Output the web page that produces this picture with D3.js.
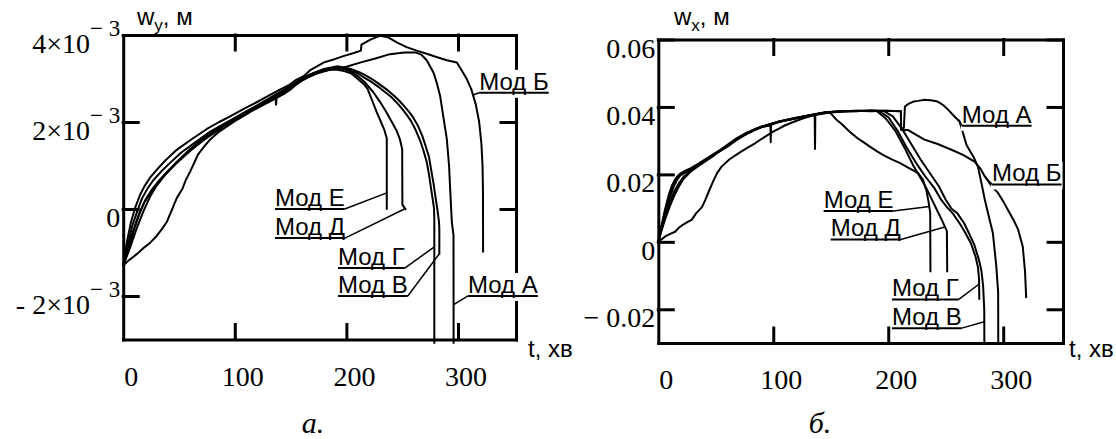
<!DOCTYPE html>
<html>
<head>
<meta charset="utf-8">
<script src="https://cdn.jsdelivr.net/npm/d3@7"></script>
<style>
  body { margin: 0; background: #fff; }
  svg { display: block; background: #fff; }
  .serif { font-family: "Liberation Serif", "Times New Roman", serif; }
  .sans { font-family: "Liberation Sans", Arial, sans-serif; }
</style>
</head>
<body>
<div id="wrapper"></div>
<script>
// t in хв; w_y in units of 1e-3 м (panel а)
const wyA = [[0,-1.3],[4,-1.2],[8,-1.12],[13,-1.02],[18,-0.9],[24,-0.78],[30,-0.62],[35,-0.45],[39,-0.3],[42,-0.12],[44,0],[46,0.13],[48,0.25],[51,0.38],[53,0.46],[56,0.66],[60,0.86],[64,1.08],[67,1.25],[72,1.42],[78,1.6],[85,1.76],[93,1.9],[100,2.02],[108,2.14],[115,2.25],[123,2.36],[130,2.45],[138,2.56],[145,2.66],[150,2.75],[155,2.86],[160,2.95],[166,3.03],[172,3.1],[185,3.2],[200,3.27],[213,3.37],[226,3.46],[239,3.56],[252,3.6],[262,3.6],[267,3.55],[272,3.42],[278,3.14],[281,2.9],[284,2.6],[287,2.1],[290,1.61],[292,1.0],[293,0.46],[294.5,-0.3],[296,-0.6],[296.1,-3.1]]
const wyB = [[0,-1.3],[3,-0.8],[7,-0.3],[11,0.05],[15,0.32],[19,0.52],[24,0.72],[30,0.9],[38,1.12],[48,1.36],[60,1.58],[75,1.84],[86,2.0],[95,2.12],[108,2.3],[120,2.46],[130,2.6],[140,2.74],[148,2.84],[155,2.97],[162,3.06],[168,3.2],[180,3.37],[190,3.45],[198,3.52],[206,3.58],[213,3.64],[213.5,3.78],[222,3.9],[230,3.98],[237,3.95],[246,3.82],[254,3.72],[263,3.64],[272,3.57],[280,3.5],[290,3.42],[299,3.37],[303,3.2],[308,2.98],[312,2.75],[316,2.4],[319,2.0],[321,1.5],[322,1.0],[322.4,0.4],[322.5,-1.0]]
const wyV = [[0,-1.3],[4,-0.85],[8,-0.4],[13,-0.02],[17,0.25],[22,0.48],[27,0.66],[34,0.86],[42,1.06],[52,1.3],[64,1.52],[78,1.78],[88,1.92],[98,2.06],[110,2.24],[122,2.4],[132,2.55],[142,2.7],[150,2.82],[158,2.95],[164,3.04],[170,3.12],[180,3.22],[192,3.28],[204,3.22],[212,3.14],[218,3.06],[224,2.97],[230,2.86],[236,2.75],[242,2.62],[247,2.5],[252,2.36],[256,2.24],[260,2.1],[264,1.92],[268,1.68],[271,1.45],[274,1.2],[276,0.9],[278,0.6],[280,0.25],[281.5,0.0],[283,-0.3],[283.3,-0.45],[283.3,-1.05]]
const wyG = [[0,-1.3],[5,-0.9],[10,-0.45],[15,-0.08],[20,0.22],[25,0.42],[31,0.62],[38,0.82],[47,1.05],[58,1.3],[72,1.58],[90,1.9],[100,2.04],[112,2.22],[124,2.38],[135,2.55],[136.5,2.57],[137,2.4],[137.5,2.59],[145,2.7],[152,2.82],[158,2.92],[165,3.02],[172,3.1],[178,3.18],[190,3.25],[202,3.2],[210,3.12],[216,3.02],[222,2.93],[228,2.82],[234,2.7],[240,2.58],[245,2.45],[250,2.3],[254,2.17],[258,2.02],[262,1.82],[266,1.58],[269,1.35],[272,1.08],[274,0.8],[276,0.45],[277.5,0.2],[278.5,0.02],[278.8,-0.2],[278.8,-3.1]]
const wyD = [[0,-1.3],[4,-0.95],[9,-0.5],[14,-0.12],[19,0.15],[24,0.35],[30,0.56],[38,0.8],[48,1.06],[60,1.34],[75,1.66],[85,1.84],[95,2.0],[108,2.19],[120,2.36],[130,2.51],[140,2.66],[148,2.78],[155,2.9],[162,3.0],[168,3.08],[175,3.16],[182,3.22],[189,3.25],[196,3.24],[203,3.17],[210,3.06],[217,2.9],[224,2.69],[230,2.47],[236,2.22],[241,1.99],[245,1.8],[248,1.6],[250,1.38],[250.2,0.1],[253.4,-0.02]]
const wyE = [[0,-1.3],[6,-0.9],[12,-0.45],[18,-0.06],[24,0.28],[30,0.54],[38,0.8],[48,1.08],[60,1.38],[75,1.7],[85,1.87],[95,2.02],[108,2.21],[120,2.38],[130,2.53],[140,2.68],[148,2.8],[155,2.92],[162,3.02],[168,3.1],[174,3.15],[180,3.18],[186,3.2],[192,3.2],[198,3.17],[204,3.12],[208,3.04],[212,2.95],[216,2.86],[219,2.76],[223,2.5],[227,2.24],[231,2.0],[234,1.82],[236.2,1.62],[236.2,-0.02]]

// w_x in м (panel б)
const wxA = [[0,0],[3,0.0008],[6,0.0016],[10,0.0023],[14.6,0.003],[18,0.0042],[22,0.0052],[26,0.006],[29,0.0065],[33,0.0085],[38,0.0103],[41,0.0125],[44,0.015],[47,0.0174],[51,0.0203],[55,0.0223],[62,0.0245],[70,0.0263],[77,0.0278],[84.5,0.0293],[92,0.031],[99,0.0325],[105,0.0336],[110,0.0345],[118,0.0356],[125,0.0365],[132,0.0372],[140,0.0378],[148,0.0383],[155,0.0385],[165,0.0387],[175,0.0388],[185,0.0388],[195,0.0389],[205,0.0388],[211,0.0387],[211.2,0.0335],[213.6,0.0338],[214.5,0.0401],[218,0.041],[222,0.0416],[226,0.0418],[231,0.0421],[237,0.042],[243,0.0416],[248,0.0405],[252,0.0392],[257,0.0374],[262,0.0357],[265,0.0323],[268,0.0288],[271,0.027],[274,0.0253],[278,0.0223],[281,0.0175],[284,0.0125],[288,0.0068],[291,0.0026],[294,-0.0073],[295.6,-0.015],[295.7,-0.0305]]
const wxB = [[0,0],[3,0.0035],[6,0.0068],[10,0.0105],[14,0.0138],[18,0.0165],[22,0.0187],[28,0.0208],[35,0.0225],[46,0.025],[53,0.0268],[61,0.0284],[68,0.0302],[76,0.0318],[83,0.033],[90,0.034],[97.5,0.0346],[97.8,0.0295],[98.1,0.0347],[105,0.0355],[112,0.0361],[119,0.0366],[126,0.0371],[134,0.0376],[141,0.0381],[148,0.0384],[160,0.0387],[172,0.0389],[185,0.0387],[198,0.0389],[205,0.0388],[211,0.0387],[211.2,0.0332],[217,0.0332],[224,0.0318],[231.5,0.0303],[243,0.029],[255,0.0273],[265,0.0258],[275,0.0238],[280,0.0218],[284,0.0194],[290,0.0165],[295.5,0.0145],[300,0.012],[304,0.0095],[309,0.0065],[313,0.0036],[317,-0.0014],[319,-0.009],[320,-0.0167]]
const wxV = [[0,0],[3,0.0048],[6,0.009],[10,0.014],[13,0.0172],[16,0.0192],[19,0.0202],[23,0.021],[28,0.0218],[35,0.0232],[46,0.0256],[54,0.0273],[61,0.029],[68,0.0307],[76,0.0322],[83,0.0333],[90,0.0342],[105,0.0357],[119,0.0367],[134,0.0377],[148,0.0385],[160,0.0388],[172,0.0387],[185,0.039],[196,0.0388],[204,0.0372],[212,0.0335],[220,0.029],[228,0.0245],[236,0.0205],[244,0.0165],[250,0.0125],[255,0.0098],[260,0.0085],[266,0.0055],[270,0.0027],[275,-0.001],[279,-0.0055],[281,-0.0085],[282.5,-0.013],[283.5,-0.02],[283.6,-0.0305]]
const wxG = [[0,0],[3,0.0052],[6,0.0098],[9,0.0138],[12,0.0168],[15,0.0186],[18,0.0196],[20,0.0201],[23,0.0207],[28,0.0216],[35,0.023],[46,0.0254],[54,0.0271],[61,0.0288],[68,0.0305],[76,0.032],[83,0.0332],[90,0.0341],[105,0.0356],[119,0.0366],[130,0.0373],[136,0.0377],[136.3,0.0275],[136.6,0.0378],[148,0.0384],[160,0.0387],[175,0.0389],[185,0.0388],[192,0.0388],[200,0.037],[208,0.033],[216,0.028],[224,0.0235],[232,0.0195],[240,0.016],[246,0.0125],[251,0.0103],[256,0.0085],[263,0.005],[267,0.0027],[272,-0.0005],[276,-0.0045],[278,-0.0075],[279,-0.011],[279.2,-0.0172]]
const wxD = [[0,0],[3,0.004],[6,0.0075],[10,0.0118],[14,0.015],[18,0.0174],[22,0.0193],[28,0.0211],[35,0.0227],[46,0.0252],[61,0.0286],[76,0.032],[90,0.0341],[105,0.0356],[119,0.0366],[134,0.0376],[148,0.0384],[160,0.0387],[175,0.0388],[185,0.0389],[190,0.0388],[198,0.0365],[206,0.033],[214,0.028],[222,0.0225],[228,0.019],[233,0.016],[238,0.0125],[243,0.009],[247,0.0062],[251,0.0032],[251.3,-0.009]]
const wxE = [[0,0],[3,0.0045],[6,0.0085],[10,0.013],[13,0.016],[16,0.0182],[19,0.0196],[22,0.0203],[28,0.0214],[35,0.0229],[46,0.0254],[61,0.0288],[76,0.0321],[90,0.0342],[105,0.0357],[119,0.0367],[134,0.0377],[145,0.0384],[150,0.0381],[155,0.0362],[160,0.0348],[166,0.0328],[173,0.0308],[179,0.0294],[185,0.028],[191,0.0267],[197,0.0255],[204,0.0243],[210,0.0234],[220,0.0215],[226,0.0204],[230,0.0185],[233,0.0155],[235,0.012],[236.5,0.0086],[236.7,-0.009]]

const modNames = ["Мод А", "Мод Б", "Мод В", "Мод Г", "Мод Д", "Мод Е"]
const xTickLabels = [0, 100, 200, 300]
const yTicksLeft = [4, 2, 0, -2]
const yTickLabelsLeft = ["4×10", "2×10", "0", "- 2×10"]
const yTicksRight = [0.06, 0.04, 0.02, 0, -0.02]
const yTickLabelsRight = ["0.06", "0.04", "0.02", "0", "− 0.02"]

// label anchor (t, w) and the curve point the leader goes to
const notesLeft = [
  { name: "Мод Б", t: 319, w: 2.74, tt: 313.5, tw: 2.62, side: "left" },
  { name: "Мод Е", t: 136, w: 0.07, tt: 236.2, tw: 0.37, side: "right" },
  { name: "Мод Д", t: 136, w: -0.6, tt: 252, tw: 0.0, side: "right" },
  { name: "Мод Г", t: 192.5, w: -1.29, tt: 278.8, tw: -0.87, side: "right" },
  { name: "Мод В", t: 192.5, w: -1.93, tt: 283.3, tw: -1.03, side: "right" },
  { name: "Мод А", t: 309, w: -1.93, tt: 296.1, tw: -2.2, side: "left" },
]
const notesRight = [
  { name: "Мод А", t: 264, w: 0.0353, tt: 261.5, tw: 0.0362, side: "left" },
  { name: "Мод Б", t: 290.3, w: 0.0179, tt: 283, tw: 0.0198, side: "left" },
  { name: "Мод Е", t: 143.8, w: 0.010, tt: 236, tw: 0.0105, side: "right" },
  { name: "Мод Д", t: 150, w: 0.0016, tt: 250, tw: 0.0045, side: "right" },
  { name: "Мод Г", t: 203.3, w: -0.0162, tt: 279.1, tw: -0.0125, side: "right" },
  { name: "Мод В", t: 203.3, w: -0.0247, tt: 283.6, tw: -0.0237, side: "right" },
]

function drawChart() {
  const width = 1116
  const height = 439

  const svg = d3.select("#wrapper")
    .append("svg")
      .attr("width", width)
      .attr("height", height)

  const panels = [
    {
      series: [wyA, wyB, wyV, wyG, wyD, wyE],
      xRange: [123.2, 516], yDomain: [-3, 4], yRange: [339.5, 35],
      yTicks: yTicksLeft, yLabels: yTickLabelsLeft, exponent: true,
      notes: notesLeft, sub: "y", titleX: 137, axisNameX: 528, caption: "а.", captionX: 313,
    },
    {
      series: [wxA, wxB, wxV, wxG, wxD, wxE],
      xRange: [658.3, 1063], yDomain: [-0.03, 0.06], yRange: [343, 39.5],
      yTicks: yTicksRight, yLabels: yTickLabelsRight, exponent: false,
      notes: notesRight, sub: "x", titleX: 674, axisNameX: 1069, caption: "б.", captionX: 820,
    },
  ]

  panels.forEach(p => drawPanel(svg, p))
}

function drawPanel(svg, p) {
  const xScale = d3.scaleLinear().domain([0, 352]).range(p.xRange)
  const yScale = d3.scaleLinear().domain(p.yDomain).range(p.yRange)
  const [x0, x1] = p.xRange
  const [yBottom, yTop] = p.yRange

  const bounds = svg.append("g")

  const line = d3.line()
    .x(d => xScale(d[0]))
    .y(d => yScale(d[1]))

  bounds.selectAll(".curve")
      .data(p.series)
    .join("path")
      .attr("class", "curve")
      .attr("d", line)
      .attr("fill", "none")
      .attr("stroke", "#000")
      .attr("stroke-width", 2)
      .attr("stroke-linejoin", "round")

  // frame with inward ticks on all four sides
  const xt = [100, 200, 300]
  const frame = [
    [d3.axisBottom(xScale).tickValues(xt), `translate(0,${yBottom})`],
    [d3.axisTop(xScale).tickValues(xt), `translate(0,${yTop})`],
    [d3.axisLeft(yScale).tickValues(p.yTicks), `translate(${x0},0)`],
    [d3.axisRight(yScale).tickValues(p.yTicks), `translate(${x1},0)`],
  ]
  frame.forEach(([axis, tr]) => {
    const g = bounds.append("g")
        .attr("transform", tr)
        .call(axis.tickSize(-15).tickSizeOuter(0).tickFormat(""))
    g.selectAll(".domain, .tick line")
        .attr("stroke", "#000")
        .attr("stroke-width", 3)
        .attr("stroke-linecap", "square")
  })

  // tick labels
  bounds.selectAll(".xlab")
      .data(xTickLabels)
    .join("text")
      .attr("class", "xlab serif")
      .attr("x", d => xScale(d) + 8)
      .attr("y", yBottom + 46)
      .attr("text-anchor", "middle")
      .style("font-size", "28px")
      .text(d => d)

  p.yTicks.forEach((v, i) => {
    const label = p.yLabels[i]
    const txt = bounds.append("text")
        .attr("class", "serif")
        .attr("x", x0 - 3)
        .attr("y", yScale(v) + 18)
        .attr("text-anchor", "end")
        .style("font-size", "28px")
    txt.append("tspan").text(label)
    if (p.exponent && v != 0) {
      txt.append("tspan")
          .attr("dy", -17)
          .style("font-size", "23px")
          .text("− 3")
    }
  })

  // axis names
  const title = bounds.append("text")
      .attr("class", "sans")
      .attr("x", p.titleX)
      .attr("y", 25)
      .style("font-size", "24px")
  title.append("tspan").text("w")
  title.append("tspan").attr("dy", 6).style("font-size", "17px").text(p.sub)
  title.append("tspan").attr("dy", -6).text(",  м")

  bounds.append("text")
      .attr("class", "sans")
      .attr("x", p.axisNameX)
      .attr("y", 357)
      .style("font-size", "24px")
      .text("t, хв")

  bounds.append("text")
      .attr("class", "serif")
      .attr("x", p.captionX)
      .attr("y", 433)
      .attr("text-anchor", "middle")
      .style("font-size", "30px")
      .style("font-style", "italic")
      .text(p.caption)

  // underlined mode labels on white boxes, with leaders to the curves
  p.notes.forEach(n => {
    const g = bounds.append("g")
    const bg = g.append("rect").attr("fill", "#fff")
    const x = xScale(n.t)
    const y = yScale(n.w)
    const txt = g.append("text")
        .attr("class", "sans")
        .attr("x", x)
        .attr("y", y)
        .style("font-size", "24px")
        .text(n.name)
    const box = txt.node().getBBox()
    bg.attr("x", box.x - 1).attr("y", box.y + 2)
      .attr("width", box.width + 2).attr("height", box.height + 1)
    const uy = y + 3
    g.append("line")
        .attr("x1", box.x).attr("x2", box.x + box.width)
        .attr("y1", uy).attr("y2", uy)
        .attr("stroke", "#000").attr("stroke-width", 2)
    const sx = n.side == "right" ? box.x + box.width : box.x
    g.append("line")
        .attr("x1", sx).attr("y1", uy)
        .attr("x2", xScale(n.tt)).attr("y2", yScale(n.tw))
        .attr("stroke", "#000").attr("stroke-width", 1.5)
  })
}

drawChart()
</script>
</body>
</html>
